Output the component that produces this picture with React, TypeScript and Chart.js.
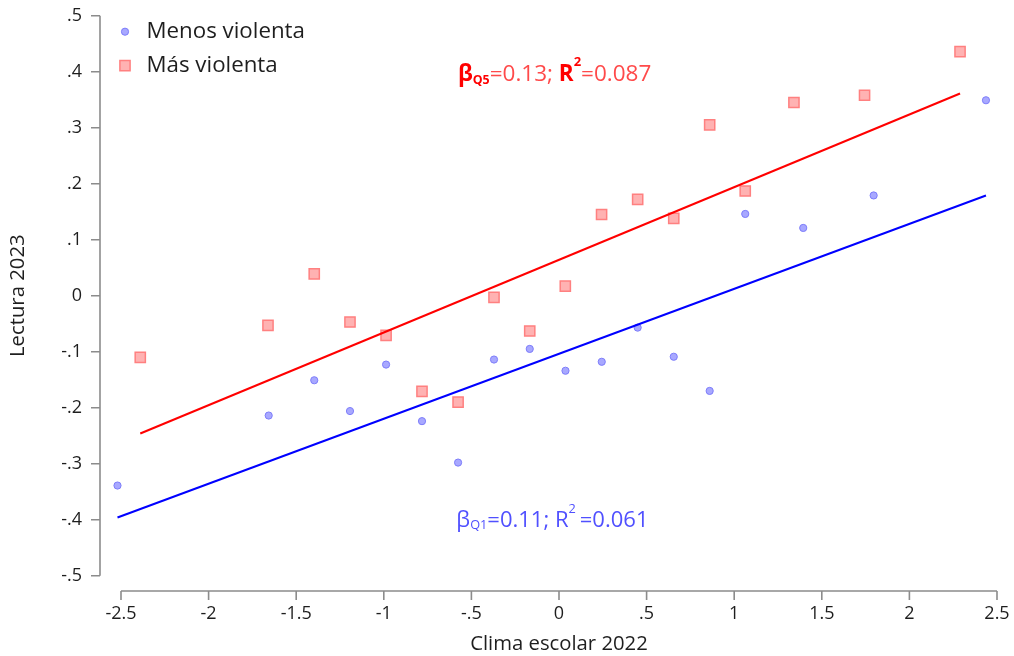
import React, { useEffect, useRef } from 'react';
import { Chart, registerables } from 'chart.js';

Chart.register(...registerables);

// ---- data ----
const menosX = [-2.52, -1.657, -1.397, -1.193, -0.987, -0.782, -0.576, -0.371, -0.167, 0.037, 0.244, 0.449, 0.655, 0.86, 1.063, 1.394, 1.796, 2.437];
const menosY = [-0.339, -0.214, -0.151, -0.206, -0.123, -0.224, -0.298, -0.114, -0.095, -0.134, -0.118, -0.057, -0.109, -0.17, 0.146, 0.121, 0.179, 0.349];
const masX = [-2.39, -1.661, -1.397, -1.193, -0.987, -0.782, -0.576, -0.371, -0.167, 0.036, 0.243, 0.449, 0.655, 0.86, 1.063, 1.341, 1.744, 2.289];
const masY = [-0.11, -0.053, 0.039, -0.047, -0.071, -0.171, -0.19, -0.003, -0.063, 0.017, 0.145, 0.172, 0.138, 0.305, 0.187, 0.345, 0.358, 0.436];
const fitQ1X = [-2.52, 2.437];
const fitQ1Y = [-0.396, 0.179];
const fitQ5X = [-2.39, 2.289];
const fitQ5Y = [-0.246, 0.361];

const xTicks = [-2.5, -2, -1.5, -1, -0.5, 0, 0.5, 1, 1.5, 2, 2.5];
const xTickLabels = ['-2.5', '-2', '-1.5', '-1', '-.5', '0', '.5', '1', '1.5', '2', '2.5'];
const yTicks = [-0.5, -0.4, -0.3, -0.2, -0.1, 0, 0.1, 0.2, 0.3, 0.4, 0.5];
const yTickLabels = ['-.5', '-.4', '-.3', '-.2', '-.1', '0', '.1', '.2', '.3', '.4', '.5'];

const seriesLabels = ['Menos violenta', 'Más violenta'];
const xTitle = 'Clima escolar 2022';
const yTitle = 'Lectura 2023';

// annotation text pieces: [text, kind]
const q5Parts: [string, string][] = [['β', 'bold'], ['Q5', 'boldSub'], ['=0.13; ', 'reg'], ['R', 'bold'], ['2', 'boldSup'], ['=0.087', 'reg']];
const q1Parts: [string, string][] = [['β', 'reg'], ['Q1', 'sub'], ['=0.11; R', 'reg'], ['2', 'sup'], ['=0.061', 'reg']];
const q5Anchor = [-0.577, 0.384];
const q1Anchor = [-0.586, -0.4125];

const FONT = '"Open Sans", Lato, sans-serif';
const TEXT = '#1e1e1e';
const AXIS = '#8c8c8c';

const toPts = (xs: number[], ys: number[]) => xs.map((x, i) => ({ x, y: ys[i] }));

const stataAxes = {
  id: 'stataAxes',
  afterDraw(chart: any) {
    const { ctx, chartArea, scales } = chart;
    const x = scales.x;
    const y = scales.y;
    const ax = chartArea.left - 21;
    const ay = chartArea.bottom + 15.3;
    ctx.save();
    ctx.strokeStyle = AXIS;
    ctx.lineWidth = 1.6;
    ctx.beginPath();
    ctx.moveTo(ax, y.getPixelForValue(yTicks[yTicks.length - 1]));
    ctx.lineTo(ax, y.getPixelForValue(yTicks[0]));
    yTicks.forEach((v) => {
      const p = y.getPixelForValue(v);
      ctx.moveTo(ax - 9, p);
      ctx.lineTo(ax, p);
    });
    ctx.moveTo(x.getPixelForValue(xTicks[0]), ay);
    ctx.lineTo(x.getPixelForValue(xTicks[xTicks.length - 1]), ay);
    xTicks.forEach((v) => {
      const p = x.getPixelForValue(v);
      ctx.moveTo(p, ay);
      ctx.lineTo(p, ay + 9);
    });
    ctx.stroke();
    ctx.restore();
  },
};

const legendPlugin = {
  id: 'insideLegend',
  afterDraw(chart: any) {
    const { ctx, chartArea } = chart;
    const ds = chart.data.datasets;
    ctx.save();
    ctx.font = `22.3px ${FONT}`;
    ctx.textBaseline = 'middle';
    ctx.textAlign = 'left';
    const mx = chartArea.left + 4;
    const tx = chartArea.left + 25.5;
    const rows = [chartArea.top + 16, chartArea.top + 50];
    [0, 1].forEach((i) => {
      const d = ds[i];
      const cy = rows[i];
      ctx.fillStyle = d.backgroundColor;
      ctx.strokeStyle = d.borderColor;
      ctx.lineWidth = d.borderWidth;
      ctx.beginPath();
      if (d.pointStyle === 'rect') {
        const s = Math.SQRT1_2 * d.pointRadius;
        ctx.rect(mx - s, cy - s, 2 * s, 2 * s);
      } else {
        ctx.arc(mx, cy, d.pointRadius, 0, Math.PI * 2);
      }
      ctx.fill();
      ctx.stroke();
      ctx.fillStyle = TEXT;
      ctx.fillText(d.label, tx, cy);
    });
    ctx.restore();
  },
};

const drawParts = (ctx: any, parts: [string, string][], x0: number, base: number, colBold: string, colReg: string, size: number, supGap: number) => {
  let x = x0;
  parts.forEach(([t, kind]) => {
    let font = `${size}px ${FONT}`;
    let dy = 0;
    let col = colReg;
    let extra = 0;
    if (kind === 'bold') { font = `bold ${size}px ${FONT}`; col = colBold; }
    if (kind === 'boldSub') { font = `bold ${size * 0.55}px ${FONT}`; dy = 3.6; col = colBold; }
    if (kind === 'boldSup') { font = `bold ${size * 0.58}px ${FONT}`; dy = -15; col = colBold; extra = supGap; }
    if (kind === 'sub') { font = `${size * 0.58}px ${FONT}`; dy = 1.8; }
    if (kind === 'sup') { font = `${size * 0.58}px ${FONT}`; dy = -14; extra = supGap; }
    ctx.font = font;
    ctx.fillStyle = col;
    ctx.fillText(t, x, base + dy);
    x += ctx.measureText(t).width + extra;
  });
};

const annotPlugin = {
  id: 'fitText',
  afterDraw(chart: any) {
    const { ctx, scales } = chart;
    ctx.save();
    ctx.textBaseline = 'alphabetic';
    ctx.textAlign = 'left';
    drawParts(ctx, q5Parts, scales.x.getPixelForValue(q5Anchor[0]), scales.y.getPixelForValue(q5Anchor[1]), '#ff0000', '#ff4a4a', 22.5, 0);
    drawParts(ctx, q1Parts, scales.x.getPixelForValue(q1Anchor[0]), scales.y.getPixelForValue(q1Anchor[1]), '#5050ff', '#5050ff', 22, 4);
    ctx.restore();
  },
};

export default function App() {
  const ref = useRef<HTMLCanvasElement | null>(null);
  useEffect(() => {
    if (!ref.current) return;
    const chart = new Chart(ref.current, {
      type: 'scatter',
      data: {
        datasets: [
          {
            label: seriesLabels[0],
            data: toPts(menosX, menosY),
            pointStyle: 'circle',
            pointRadius: 3.6,
            pointHoverRadius: 3.6,
            backgroundColor: 'rgba(168,168,255,1)',
            borderColor: 'rgba(125,125,250,1)',
            borderWidth: 1,
            clip: false,
            order: 2,
          },
          {
            label: seriesLabels[1],
            data: toPts(masX, masY),
            pointStyle: 'rect',
            pointRadius: 7.2,
            pointHoverRadius: 7.2,
            backgroundColor: 'rgba(255,178,178,1)',
            borderColor: 'rgba(255,128,128,1)',
            borderWidth: 1.5,
            clip: false,
            order: 2,
          },
          {
            type: 'line',
            label: 'fitQ1',
            data: toPts(fitQ1X, fitQ1Y),
            borderColor: '#0000ff',
            borderWidth: 2,
            pointRadius: 0,
            showLine: true,
            fill: false,
            clip: false,
            order: 1,
          },
          {
            type: 'line',
            label: 'fitQ5',
            data: toPts(fitQ5X, fitQ5Y),
            borderColor: '#ff0000',
            borderWidth: 2,
            pointRadius: 0,
            showLine: true,
            fill: false,
            clip: false,
            order: 1,
          },
        ] as any,
      },
      options: {
        animation: false,
        responsive: false,
        devicePixelRatio: 1,
        layout: { autoPadding: false, padding: { left: 0, top: 15.7, right: 17, bottom: 0 } },
        plugins: { legend: { display: false }, tooltip: { enabled: false } },
        scales: {
          x: {
            type: 'linear',
            min: -2.5,
            max: 2.5,
            afterBuildTicks: (s: any) => { s.ticks = xTicks.map((v) => ({ value: v })); },
            afterFit: (s: any) => { s.height = 80.3; },
            grid: { display: false, drawTicks: true, tickLength: 27.5 },
            border: { display: false },
            ticks: {
              padding: 0,
              color: TEXT,
              font: { family: FONT, size: 18 },
              maxRotation: 0,
              autoSkip: false,
              callback: (_v: any, i: number) => xTickLabels[i],
            },
            title: { display: true, text: xTitle, color: TEXT, font: { family: FONT, size: 20.3 }, padding: { top: 0, bottom: 0 } },
          },
          y: {
            type: 'linear',
            min: -0.5,
            max: 0.5,
            afterBuildTicks: (s: any) => { s.ticks = yTicks.map((v) => ({ value: v })); },
            afterFit: (s: any) => { s.width = 121; },
            grid: { display: false, drawTicks: true, tickLength: 39 },
            border: { display: false },
            ticks: {
              padding: 0,
              color: TEXT,
              font: { family: FONT, size: 18 },
              autoSkip: false,
              callback: (_v: any, i: number) => yTickLabels[i],
            },
            title: { display: true, text: yTitle, color: TEXT, font: { family: FONT, size: 20.3 }, padding: { top: 6, bottom: 0 } },
          },
        },
      },
      plugins: [stataAxes, legendPlugin, annotPlugin],
    });
    return () => chart.destroy();
  }, []);
  return (
    <canvas
      ref={ref}
      width={1014}
      height={656}
      style={{ position: 'absolute', left: 0, top: 0, display: 'block', width: 1014, height: 656 }}
    />
  );
}
